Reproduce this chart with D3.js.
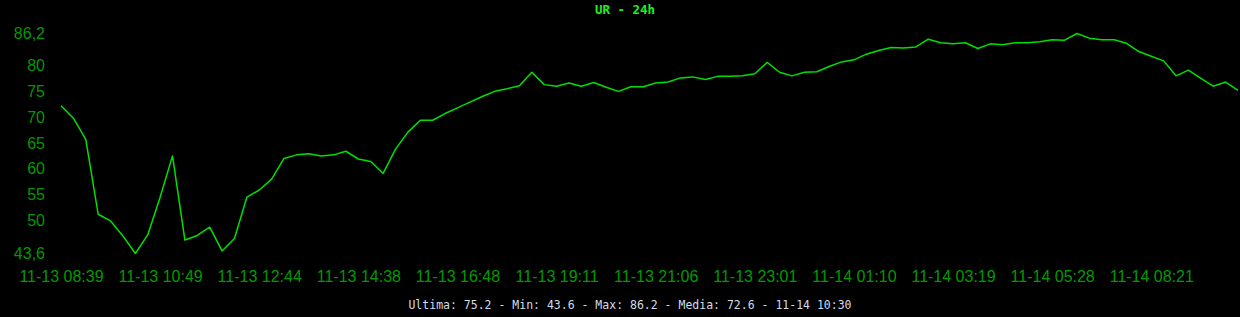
<!DOCTYPE html>
<html>
<head>
<meta charset="utf-8">
<script src="https://cdn.jsdelivr.net/npm/d3@7"></script>
<style>
  body { margin: 0; background: #000; }
  svg { display: block; }
</style>
</head>
<body>
<div class="chart"></div>
<script>
// UR (umidade relativa) readings, last 24h
var urValues = [
  72.2, 69.8, 65.7, 51.2, 49.9, 47.0, 43.6, 47.2, 54.5, 62.5,
  46.2, 47.1, 48.7, 44.1, 46.5, 54.5, 55.9, 58.0, 62.0, 62.7,
  62.9, 62.5, 62.7, 63.4, 61.9, 61.4, 59.1, 63.8, 67.1, 69.4,
  69.4, 70.7, 71.8, 72.9, 74.0, 75.0, 75.5, 76.1, 78.7, 76.3,
  76.0, 76.6, 76.0, 76.7, 75.8, 75.0, 75.9, 75.9, 76.6, 76.8,
  77.6, 77.8, 77.3, 77.9, 77.9, 78.0, 78.4, 80.6, 78.7, 78.0,
  78.7, 78.8, 79.8, 80.7, 81.1, 82.2, 82.9, 83.5, 83.4, 83.6,
  85.1, 84.4, 84.2, 84.4, 83.3, 84.2, 84.0, 84.4, 84.4, 84.6,
  85.0, 84.9, 86.2, 85.3, 85.0, 85.0, 84.3, 82.7, 81.8, 80.9,
  78.0, 79.1, 77.5, 76.0, 76.8, 75.2
];

var timeLabels = [
  "11-13 08:39", "11-13 10:49", "11-13 12:44", "11-13 14:38",
  "11-13 16:48", "11-13 19:11", "11-13 21:06", "11-13 23:01",
  "11-14 01:10", "11-14 03:19", "11-14 05:28", "11-14 08:21"
];
var labelStep = 8; // one time label every 8 readings

var yTicks = [43.6, 50, 55, 60, 65, 70, 75, 80, 86.2];

var titleText = "UR - 24h";
var footerText = "Ultima: 75.2 - Min: 43.6 - Max: 86.2 - Media: 72.6 - 11-14 10:30";

var svgWidth = 1240;
var svgHeight = 317;

var svg = d3.select(".chart")
  .append("svg")
  .attr("width", svgWidth)
  .attr("height", svgHeight);

svg.append("rect")
  .attr("width", svgWidth)
  .attr("height", svgHeight)
  .attr("fill", "#000");

var xScale = d3.scalePoint()
  .domain(d3.range(urValues.length))
  .range([61, 1238]);

var yScale = d3.scaleLinear()
  .domain([d3.min(yTicks), d3.max(yTicks)])
  .range([253.5, 33.5]);

// y axis (labels only)
var leftAxis = d3.axisLeft(yScale)
  .tickValues(yTicks)
  .tickSize(0)
  .tickPadding(0)
  .tickFormat(d => (Number.isInteger(d) ? String(d) : d.toFixed(1).replace(".", ",")));

var yAxis = svg.append("g")
  .attr("transform", "translate(45,0)")
  .call(leftAxis);
yAxis.select(".domain").remove();
yAxis.selectAll("text")
  .attr("fill", "#009a00")
  .style("font-family", "'Liberation Sans', Arial, sans-serif")
  .style("font-size", "16px");

// x axis (labels only)
var labelIdx = timeLabels.map((t, i) => i * labelStep);
var bottomAxis = d3.axisBottom(xScale)
  .tickValues(labelIdx)
  .tickSize(0)
  .tickPadding(0)
  .tickFormat((d, i) => timeLabels[i]);

var xAxis = svg.append("g")
  .attr("transform", "translate(0,271)")
  .call(bottomAxis);
xAxis.select(".domain").remove();
xAxis.selectAll("text")
  .attr("fill", "#009a00")
  .style("font-family", "'Liberation Sans', Arial, sans-serif")
  .style("font-size", "16px");

// the line
var line = d3.line()
  .x((d, i) => xScale(i))
  .y(d => yScale(d));

svg.append("path")
  .datum(urValues)
  .attr("d", line)
  .attr("fill", "none")
  .attr("stroke", "#00e000")
  .attr("stroke-width", 1.5)
  .attr("stroke-linejoin", "round");

// title + footer
svg.append("text")
  .attr("x", 625)
  .attr("y", 14)
  .attr("text-anchor", "middle")
  .attr("fill", "#1ef01e")
  .style("font-family", "'DejaVu Sans Mono', monospace")
  .style("font-weight", "bold")
  .style("font-size", "12.5px")
  .text(titleText);

svg.append("text")
  .attr("x", 630)
  .attr("y", 309)
  .attr("text-anchor", "middle")
  .attr("fill", "#d0dce8")
  .style("font-family", "'DejaVu Sans Mono', monospace")
  .style("font-size", "11.5px")
  .text(footerText);
</script>
</body>
</html>
